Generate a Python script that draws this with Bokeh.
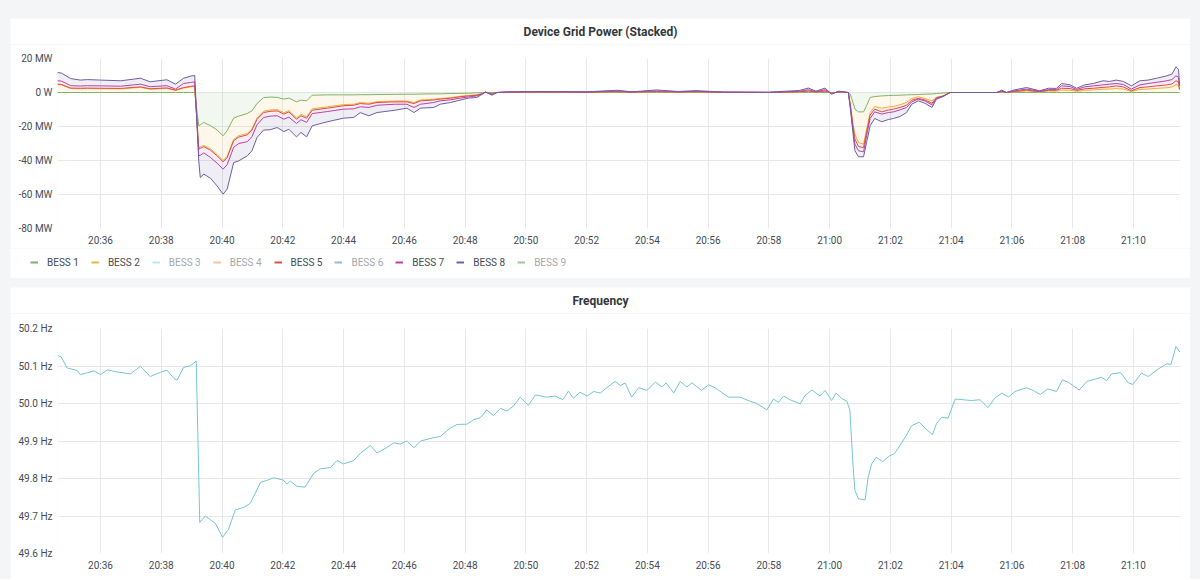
import numpy as np
import pandas as pd
from bokeh.plotting import figure
from bokeh.layouts import column, row
from bokeh.core.properties import value
from bokeh.models import (Range1d, FixedTicker, SingleIntervalTicker, DatetimeTickFormatter,
                          CustomJSTickFormatter, Legend, LegendItem)
from bokeh.embed import file_html
from bokeh.resources import INLINE

# ---------------- data ----------------
power_times = [
    "20:34:35", "20:34:43", "20:35:01", "20:35:20", "20:35:34", "20:36:00", "20:36:40", "20:37:19", "20:37:38", "20:38:11",
    "20:38:28", "20:38:44", "20:38:58", "20:39:06", "20:39:14", "20:39:17", "20:39:24", "20:39:37", "20:39:50", "20:40:02",
    "20:40:10", "20:40:23", "20:40:33", "20:40:50", "20:40:59", "20:41:09", "20:41:22", "20:41:35", "20:41:49", "20:42:02",
    "20:42:12", "20:42:27", "20:42:36", "20:42:47", "20:42:58", "20:43:28", "20:44:00", "20:44:20", "20:44:33", "20:44:50",
    "20:45:06", "20:45:42", "20:46:05", "20:46:19", "20:46:32", "20:46:58", "20:47:11", "20:47:31", "20:47:50", "20:48:07",
    "20:48:23", "20:48:34", "20:48:40", "20:48:53", "20:49:03", "20:49:24", "20:50:30", "20:52:00", "20:53:00", "20:53:30",
    "20:54:18", "20:55:00", "20:55:36", "20:56:30", "20:58:00", "20:59:00", "20:59:18", "20:59:33", "20:59:51", "21:00:04",
    "21:00:18", "21:00:37", "21:00:41", "21:00:46", "21:00:50", "21:00:57", "21:01:07", "21:01:13", "21:01:20", "21:01:29",
    "21:01:43", "21:01:56", "21:02:06", "21:02:19", "21:02:32", "21:02:42", "21:02:55", "21:03:08", "21:03:22", "21:03:31",
    "21:03:44", "21:03:58", "21:05:30", "21:05:40", "21:05:49", "21:06:06", "21:06:29", "21:06:55", "21:07:12", "21:07:28",
    "21:07:38", "21:07:55", "21:08:08", "21:08:24", "21:08:41", "21:09:00", "21:09:13", "21:09:26", "21:09:40", "21:09:56",
    "21:10:13", "21:10:29", "21:10:46", "21:11:06", "21:11:16", "21:11:24", "21:11:29", "21:11:31",
]

# MW per device (stacked in the chart)
bess1 = [
    0, 0, 0, 0, 0, 0, 0, 0, 0, 0, 0, 0, 0, 0,
    -19.6, -19.0, -17.6, -19.5, -22.0, -25.5, -22.5, -15.0, -13.9, -12.3, -10.8, -6.5, -3.0, -2.7, -2.9, -3.9,
    -3.3, -5.5, -4.5, -4.9, -1.6, -1.4, -1.4, -1.4, -1.3, -1.3, -1.2, -1.1, -1.0, -1.0, -0.9, -0.8, -0.8, -0.6,
    -0.5, -0.4, -0.2, -0.1,
    0, 0, 0, 0, 0, 0, 0, 0, 0, 0, 0, 0, 0, 0, 0, 0, 0, 0, 0, 0,
    -1.0, -5.9, -9.8, -11.4, -11.4, -7.8, -2.9, -2.4, -2.0, -1.8, -1.7, -1.6, -1.4, -1.3, -1.2, -1.0, -0.9, -0.6, -0.3,
    0, 0, 0, 0, 0, 0, 0, 0, 0, 0, 0, 0, 0, 0, 0, 0, 0, 0, 0, 0, 0, 0, 0, 0, 0, 0, 0,
]
bess2 = [
    4.6, 4.4, 2.3, 2.2, 2.3, 2.2, 2.1, 3.0, 1.9, 2.4, 1.1, 2.6, 3.3, 3.6,
    -12.9, -13.0, -13.5, -13.6, -14.4, -14.5, -15.0, -12.5, -11.5, -11.8, -10.6, -8.5, -8.0, -7.6, -7.1, -8.0,
    -7.3, -9.4, -8.4, -9.4, -8.0, -7.0, -5.7, -5.5, -4.6, -5.0, -4.2, -3.9, -4.0, -4.9, -3.5, -3.1, -2.7, -2.4,
    -1.7, -1.3, -1.1, -0.5,
    0.1, -0.8, 0, 0.2, 0.2, 0.1, 0.4, 0.1, 0.4, 0.2, 0.3, 0.1, 0, 0.3, 0.7, 0.2, 0.7, -0.3, 0.2, 0,
    -6.0, -12.1, -14.7, -18.0, -19.0, -13.8, -8.9, -5.8, -7.2, -6.7, -6.5, -5.6, -4.5, -2.2, -1.3, -2.5, -4.0, -2.2, -1.7,
    0, 0, 0.4, 0, 0.4, 0.9, 0.3, 0.8, 0.8, 1.4, 1.3, 0.7, 1.3, 1.5, 1.9, 2.0, 2.3, 2.0, 0.6, 1.8, 2.0, 2.4, 2.8, 3.2,
    4.5, 4.2, 1.3,
]
bess5 = [
    0.3, 0.3, 0.3, 0.3, 0.3, 0.3, 0.3, 0.3, 0.3, 0.3, 0.3, 0.3, 0.3, 0.3,
    -0.8, -0.8, -0.8, -0.8, -0.8, -0.8, -0.8, -0.8, -0.8, -0.8, -0.8, -0.8, -0.8, -0.8, -0.8, -0.8,
    -0.8, -0.8, -0.8, -0.8, -0.8, -0.8, -0.7, -0.6, -0.6, -0.6, -0.5, -0.5, -0.5, -0.6, -0.5, -0.5, -0.4, -0.4,
    -0.3, -0.3, -0.3, -0.1,
    0, -0.1, 0, 0, 0.1, 0.1, 0.1, 0.1, 0.1, 0.1, 0.1, 0, 0, 0.1, 0.2, 0.1, 0.2, -0.1, 0.1, 0,
    -0.5, -1.5, -2.9, -2.4, -2.0, -1.9, -1.5, -1.6, -2.2, -1.8, -1.6, -1.6, -1.6, -1.0, -1.0, -0.8, -1.4, -0.3, -0.1,
    0, 0, 0.2, 0, 0.2, 0.5, 0.2, 0.5, 0.5, 1.1, 1.0, 0.5, 0.9, 1.0, 1.1, 1.3, 1.6, 1.3, 0.4, 1.1, 1.3, 1.5, 1.7, 1.8,
    2.4, 2.1, 0.7,
]
bess7 = [
    2.0, 2.0, 1.4, 1.3, 1.4, 1.4, 1.3, 1.6, 1.2, 1.3, 0.6, 2.4, 2.3, 2.4,
    -3.9, -4.2, -3.6, -4.3, -4.3, -4.3, -4.2, -3.9, -3.8, -4.0, -3.8, -3.2, -2.9, -2.8, -2.9, -3.0,
    -3.1, -2.5, -2.3, -2.5, -2.0, -2.0, -2.0, -2.1, -1.9, -1.9, -1.6, -1.4, -1.4, -2.3, -2.0, -1.5, -1.0, -0.9,
    -0.8, -0.6, -0.4, -0.2,
    0.1, -0.2, 0, 0.1, 0.1, 0.1, 0.3, 0.1, 0.4, 0.1, 0.3, 0.1, 0.1, 0.3, 0.7, 0.2, 0.7, -0.2, 0.2, 0,
    -1.0, -2.0, -3.0, -2.5, -2.5, -2.0, -2.0, -1.6, -1.3, -1.5, -1.6, -1.4, -1.3, -1.0, -0.4, -0.6, -1.0, -0.3, -0.1,
    0, 0, 0.3, 0, 0.4, 0.6, 0.2, 0.4, 0.4, 1.4, 1.2, 0.6, 1.1, 1.4, 1.5, 1.6, 1.4, 1.4, 1.0, 1.6, 2.0, 2.1, 2.4, 2.6,
    2.9, 2.7, 1.9,
]
bess8 = [
    4.9, 4.7, 4.2, 3.5, 3.6, 3.4, 3.2, 3.5, 2.9, 3.5, 2.9, 3.1, 3.7, 3.7,
    -3.0, -13.0, -12.5, -12.2, -13.4, -14.7, -14.4, -9.0, -10.2, -8.3, -8.3, -7.5, -7.4, -8.0, -6.9, -7.3,
    -7.1, -7.9, -7.5, -8.5, -7.2, -6.0, -5.3, -5.1, -3.4, -4.9, -4.3, -3.5, -2.3, -3.0, -2.3, -2.9, -2.0, -1.6,
    -1.2, -0.7, -0.9, -0.1,
    0.2, -0.5, 0, 0.1, 0.2, 0.1, 0.5, 0.1, 0.6, 0.2, 0.4, 0.1, 0.1, 0.5, 1.0, 0.3, 1.0, -0.4, 0.3, 0,
    -1.3, -2.0, -3.9, -3.5, -2.9, -3.9, -4.3, -3.9, -4.5, -4.1, -3.9, -3.9, -3.0, -1.4, -1.0, -1.4, -1.5, -0.5, -0.2,
    0, 0, 0.5, 0, 0.6, 0.9, 0.3, 0.8, 0.7, 1.4, 1.0, 0.7, 1.2, 1.4, 2.4, 1.6, 2.0, 1.8, 1.9, 2.4, 2.0, 2.4, 2.9, 3.2,
    5.3, 4.7, 1.0,
]

freq_times = [
    "20:34:35", "20:34:42", "20:34:54", "20:35:14", "20:35:20", "20:35:34", "20:35:47", "20:36:00", "20:36:14", "20:36:28",
    "20:36:59", "20:37:19", "20:37:38", "20:37:58", "20:38:11", "20:38:25", "20:38:31", "20:38:44", "20:38:58", "20:39:09",
    "20:39:16", "20:39:27", "20:39:37", "20:39:47", "20:40:01", "20:40:13", "20:40:26", "20:40:43", "20:40:56", "20:41:16",
    "20:41:29", "20:41:42", "20:42:01", "20:42:08", "20:42:15", "20:42:28", "20:42:44", "20:43:01", "20:43:14", "20:43:34",
    "20:43:47", "20:44:00", "20:44:20", "20:44:33", "20:44:53", "20:45:06", "20:45:26", "20:45:39", "20:45:52", "20:46:05",
    "20:46:19", "20:46:32", "20:46:58", "20:47:11", "20:47:31", "20:47:44", "20:48:04", "20:48:17", "20:48:30", "20:48:43",
    "20:48:56", "20:49:10", "20:49:23", "20:49:36", "20:49:49", "20:50:05", "20:50:19", "20:50:41", "20:50:58", "20:51:13",
    "20:51:24", "20:51:34", "20:51:47", "20:52:01", "20:52:14", "20:52:27", "20:52:40", "20:52:56", "20:53:07", "20:53:16",
    "20:53:29", "20:53:43", "20:53:59", "20:54:16", "20:54:29", "20:54:37", "20:54:52", "20:55:05", "20:55:18", "20:55:28",
    "20:55:47", "20:56:01", "20:56:14", "20:56:40", "20:57:03", "20:57:23", "20:57:36", "20:57:56", "20:58:09", "20:58:19",
    "20:58:29", "20:58:42", "20:59:02", "20:59:11", "20:59:25", "20:59:41", "20:59:51", "21:00:04", "21:00:13", "21:00:24",
    "21:00:34", "21:00:40", "21:00:46", "21:00:50", "21:00:57", "21:01:10", "21:01:16", "21:01:23", "21:01:32", "21:01:45",
    "21:01:58", "21:02:08", "21:02:19", "21:02:32", "21:02:42", "21:02:57", "21:03:08", "21:03:23", "21:03:31", "21:03:41",
    "21:03:54", "21:04:08", "21:04:24", "21:04:40", "21:04:57", "21:05:13", "21:05:26", "21:05:40", "21:05:53", "21:06:06",
    "21:06:29", "21:06:42", "21:06:56", "21:07:11", "21:07:28", "21:07:40", "21:07:51", "21:08:13", "21:08:28", "21:08:44",
    "21:08:57", "21:09:07", "21:09:17", "21:09:35", "21:09:50", "21:09:59", "21:10:16", "21:10:29", "21:10:49", "21:11:06",
    "21:11:14", "21:11:24", "21:11:32",
]
freq_hz = [
    50.128, 50.125, 50.095, 50.088, 50.077, 50.082, 50.087, 50.077, 50.090, 50.085,
    50.079, 50.099, 50.072, 50.083, 50.089, 50.067, 50.062, 50.096, 50.101, 50.113,
    49.683, 49.700, 49.690, 49.680, 49.643, 49.665, 49.716, 49.723, 49.734, 49.790,
    49.795, 49.802, 49.796, 49.785, 49.793, 49.779, 49.777, 49.814, 49.826, 49.829,
    49.848, 49.839, 49.848, 49.867, 49.888, 49.868, 49.883, 49.895, 49.892, 49.900,
    49.882, 49.900, 49.909, 49.912, 49.935, 49.944, 49.945, 49.957, 49.962, 49.983,
    49.968, 49.987, 49.980, 49.994, 50.017, 49.995, 50.023, 50.017, 50.020, 50.010,
    50.033, 50.014, 50.030, 50.020, 50.032, 50.028, 50.042, 50.059, 50.048, 50.055,
    50.017, 50.042, 50.035, 50.057, 50.044, 50.055, 50.028, 50.059, 50.044, 50.055,
    50.035, 50.050, 50.042, 50.017, 50.017, 50.006, 50.000, 49.983, 50.012, 50.003,
    50.020, 50.010, 49.999, 50.021, 50.036, 50.020, 50.035, 50.008, 50.028, 50.013,
    50.006, 49.982, 49.839, 49.768, 49.746, 49.743, 49.803, 49.839, 49.857, 49.845,
    49.860, 49.866, 49.888, 49.916, 49.941, 49.950, 49.935, 49.917, 49.946, 49.963,
    49.961, 50.012, 50.010, 50.008, 50.010, 49.989, 50.014, 50.028, 50.017, 50.032,
    50.042, 50.035, 50.024, 50.039, 50.032, 50.063, 50.057, 50.036, 50.059, 50.065,
    50.070, 50.061, 50.079, 50.082, 50.055, 50.051, 50.081, 50.072, 50.092, 50.106,
    50.104, 50.152, 50.137,
]

series_names = ["BESS 1", "BESS 2", "BESS 3", "BESS 4", "BESS 5", "BESS 6", "BESS 7", "BESS 8", "BESS 9"]
series_colors = ["#7EB26D", "#EAB839", "#6ED0E0", "#EF843C", "#E24D42", "#1F78C1", "#BA43A9", "#705DA0", "#508642"]
series_shown = [True, True, False, False, True, False, True, True, False]
stacked_values = {"BESS 1": bess1, "BESS 2": bess2, "BESS 5": bess5, "BESS 7": bess7, "BESS 8": bess8}

power_tick_values = [-80, -60, -40, -20, 0, 20]
power_tick_labels = ["-80 MW", "-60 MW", "-40 MW", "-20 MW", "0 W", "20 MW"]
freq_tick_values = [49.6, 49.7, 49.8, 49.9, 50.0, 50.1, 50.2]
freq_tick_labels = ["49.6 Hz", "49.7 Hz", "49.8 Hz", "49.9 Hz", "50.0 Hz", "50.1 Hz", "50.2 Hz"]

power_title = "Device Grid Power (Stacked)"
freq_title = "Frequency"
freq_color = "#74C6D0"

# ---------------- helpers ----------------
DAY = "2021-01-01 "


def to_dt(ts):
    return pd.to_datetime([DAY + t for t in ts])


x_start = pd.Timestamp(DAY + "20:34:35")
x_end = pd.Timestamp(DAY + "21:11:33")

TEXT = "#464c54"
GRID = "#e7e8ea"
PANEL_W = 1180


def blank_fig(height, margin):
    f = figure(width=PANEL_W, height=height, x_range=Range1d(0, 1), y_range=Range1d(0, 1),
               output_backend="svg", toolbar_location=None, min_border=0,
               x_axis_location=None, y_axis_location=None, outline_line_color=None,
               background_fill_color="white", border_fill_color="white", margin=margin)
    f.grid.visible = False
    return f


def header(text, margin):
    h = blank_fig(26, margin)
    h.text(x=[0.5], y=[0.5], text=[text], text_align="center", text_baseline="middle",
           text_font=value("Roboto"), text_font_size="12px", text_font_style="bold",
           text_color="#33373c")
    return h


def make_panel(height, y0, y1, tick_vals, tick_labs, top, bottom, margin):
    p = figure(width=PANEL_W, height=height, x_axis_type="datetime",
               x_range=Range1d(x_start, x_end), y_range=Range1d(y0, y1),
               output_backend="svg", toolbar_location=None,
               min_border_left=47, min_border_right=10, min_border_top=top, min_border_bottom=bottom,
               background_fill_color="white", border_fill_color="white",
               outline_line_color=None, margin=margin)
    p.xaxis.ticker = SingleIntervalTicker(interval=120000, num_minor_ticks=0)
    p.xaxis.formatter = DatetimeTickFormatter(minutes="%H:%M", hourmin="%H:%M", hours="%H:%M",
                                              minsec="%H:%M", seconds="%H:%M")
    p.yaxis.ticker = FixedTicker(ticks=tick_vals)
    p.yaxis.formatter = CustomJSTickFormatter(
        args=dict(vals=tick_vals, labs=tick_labs),
        code="for (let i = 0; i < vals.length; i++) { if (Math.abs(vals[i] - tick) < 1e-6) return labs[i]; } return '';")
    for ax in (p.xaxis[0], p.yaxis[0]):
        ax.axis_line_color = None
        ax.major_tick_line_color = None
        ax.minor_tick_line_color = None
        ax.major_tick_in = 0
        ax.major_tick_out = 0
        ax.major_label_text_font = "Roboto"
        ax.major_label_text_font_size = "10px"
        ax.major_label_text_color = TEXT
    p.xaxis.major_label_standoff = 6
    p.yaxis.major_label_standoff = 5
    p.xgrid.grid_line_color = GRID
    p.ygrid.grid_line_color = GRID
    return p


# ---------------- power panel ----------------
h1 = header(power_title, (18, 10, 0, 10))
p1 = make_panel(204, -80, 20, power_tick_values, power_tick_labels, 14, 20, (0, 10, 0, 10))
pt = to_dt(power_times)
base = np.zeros(len(pt))
for name, col, shown in zip(series_names, series_colors, series_shown):
    if not shown:
        continue
    top = base + np.array(stacked_values[name], dtype=float)
    p1.varea(x=pt, y1=base, y2=top, fill_color=col, fill_alpha=0.1)
    p1.line(x=pt, y=top, line_color=col, line_width=1)
    base = top

# legend strip (own canvas so that it may sit left of the plot frame)
lf = blank_fig(30, (0, 10, 0, 10))
items = []
for name, col, shown in zip(series_names, series_colors, series_shown):
    r = lf.line(x=[np.nan], y=[np.nan], line_color=col, line_width=2, visible=shown)
    items.append(LegendItem(label=name, renderers=[r]))
legend = Legend(items=items, location=(20, 10), orientation="horizontal", click_policy="hide",
                glyph_width=8, glyph_height=12, label_height=12, label_standoff=9, spacing=12,
                padding=0, margin=0, border_line_color=None, background_fill_alpha=0,
                label_text_font="Roboto", label_text_font_size="10px", label_text_color=TEXT,
                inactive_fill_color="white", inactive_fill_alpha=0.5)
lf.add_layout(legend)

# ---------------- frequency panel ----------------
h2 = header(freq_title, (9, 10, 0, 10))
p2 = make_panel(266, 49.6, 50.2, freq_tick_values, freq_tick_labels, 15, 26, (0, 10, 0, 10))
p2.line(x=to_dt(freq_times), y=freq_hz, line_color=freq_color, line_width=1)

layout = column(row(h1), p1, row(lf), row(h2), p2, styles={"background-color": "#f4f5f7"})

open("out.html", "w").write(file_html(layout, INLINE))
